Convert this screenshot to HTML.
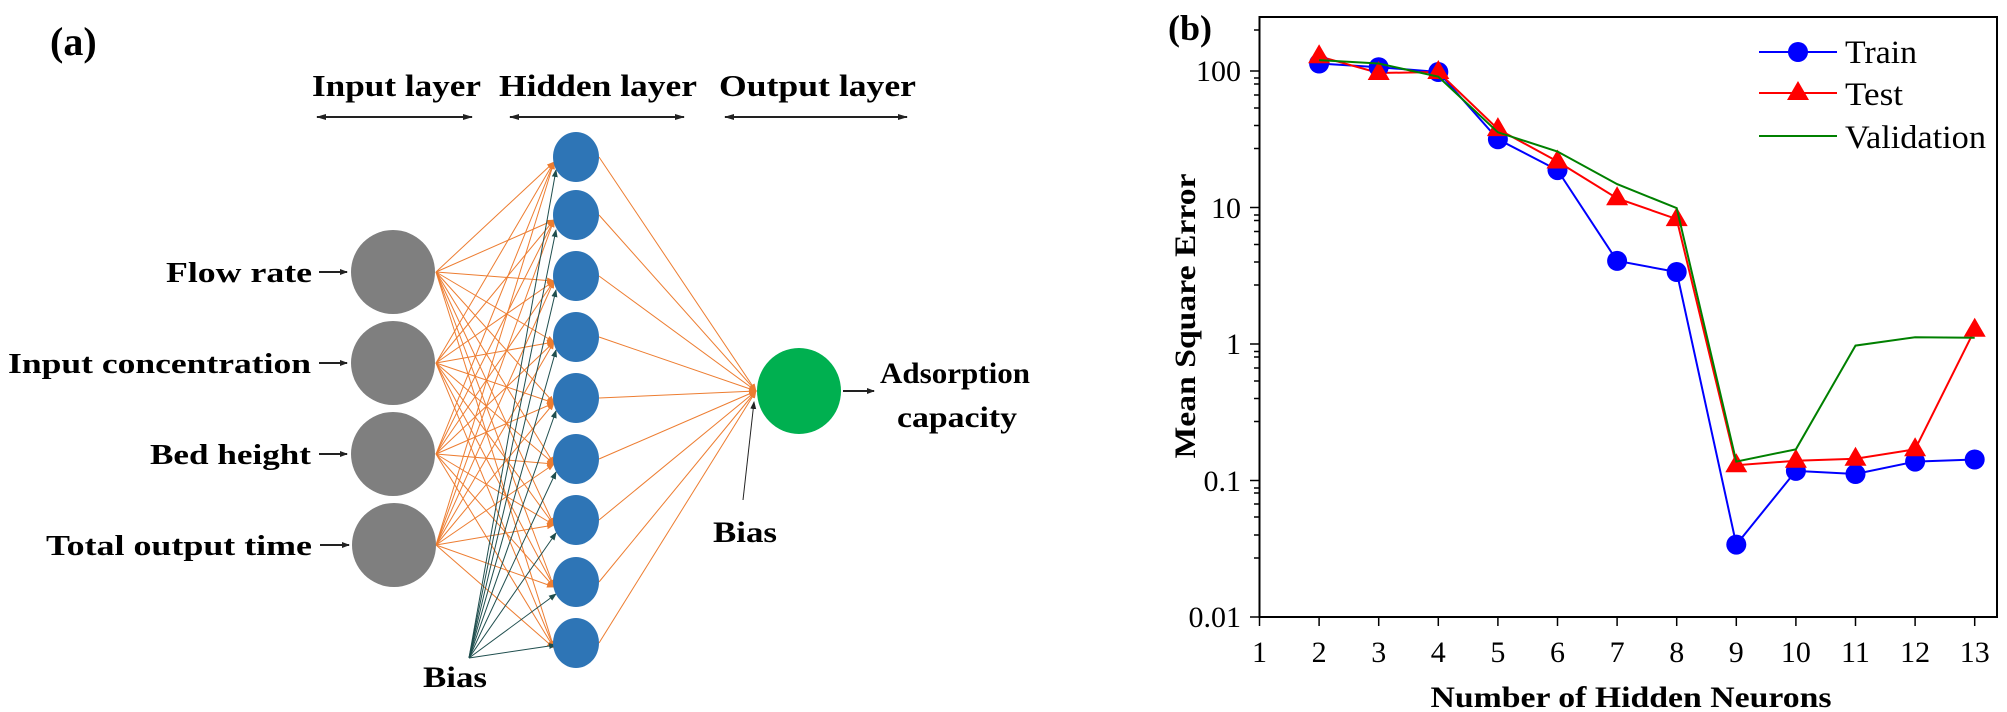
<!DOCTYPE html>
<html><head><meta charset="utf-8"><style>
html,body{margin:0;padding:0;background:#fff;}
svg{display:block;}
svg text{font-family:"Liberation Serif","Times New Roman",Times,serif !important;}
</style></head><body>
<svg width="2007" height="712" viewBox="0 0 2007 712" xmlns="http://www.w3.org/2000/svg" font-family="Liberation Serif, Times New Roman, Times, serif" style="font-family:'Liberation Serif','Times New Roman',Times,serif">
<defs>
<marker id="ah" markerWidth="8" markerHeight="8" refX="7" refY="4" orient="auto" markerUnits="userSpaceOnUse"><path d="M0,1 L8,4 L0,7 z" fill="#222"/></marker>
<marker id="ahs" markerWidth="10" markerHeight="10" refX="9" refY="5" orient="auto-start-reverse" markerUnits="userSpaceOnUse"><path d="M0,2 L10,5 L0,8 z" fill="#222"/></marker>
<marker id="ao" markerWidth="8" markerHeight="8" refX="7" refY="4" orient="auto" markerUnits="userSpaceOnUse"><path d="M0,1 L8,4 L0,7 z" fill="#ed7d31"/></marker>
<marker id="at" markerWidth="8" markerHeight="8" refX="7" refY="4" orient="auto" markerUnits="userSpaceOnUse"><path d="M0,1 L8,4 L0,7 z" fill="#1f4e4e"/></marker>
</defs>

<!-- ===== Panel (a) ===== -->
<text x="50" y="55" font-size="40" font-weight="bold">(a)</text>
<text x="312" y="96" font-size="31" font-weight="bold" textLength="169" lengthAdjust="spacingAndGlyphs">Input layer</text>
<text x="499" y="96" font-size="31" font-weight="bold" textLength="198" lengthAdjust="spacingAndGlyphs">Hidden layer</text>
<text x="719" y="96" font-size="31" font-weight="bold" textLength="197" lengthAdjust="spacingAndGlyphs">Output layer</text>
<g stroke="#222" stroke-width="2">
<line x1="317" y1="117" x2="472" y2="117" marker-start="url(#ahs)" marker-end="url(#ahs)"/>
<line x1="510" y1="117" x2="684" y2="117" marker-start="url(#ahs)" marker-end="url(#ahs)"/>
<line x1="725" y1="117" x2="907" y2="117" marker-start="url(#ahs)" marker-end="url(#ahs)"/>
</g>

<g stroke="#ed7d31" stroke-width="1" marker-end="url(#ao)">
<line x1="436" y1="272" x2="554" y2="162"/><line x1="436" y1="272" x2="554" y2="220"/><line x1="436" y1="272" x2="554" y2="281"/><line x1="436" y1="272" x2="554" y2="342"/><line x1="436" y1="272" x2="554" y2="403"/><line x1="436" y1="272" x2="554" y2="464"/><line x1="436" y1="272" x2="554" y2="525"/><line x1="436" y1="272" x2="554" y2="587"/><line x1="436" y1="272" x2="554" y2="648"/>
<line x1="436" y1="363" x2="554" y2="162"/><line x1="436" y1="363" x2="554" y2="220"/><line x1="436" y1="363" x2="554" y2="281"/><line x1="436" y1="363" x2="554" y2="342"/><line x1="436" y1="363" x2="554" y2="403"/><line x1="436" y1="363" x2="554" y2="464"/><line x1="436" y1="363" x2="554" y2="525"/><line x1="436" y1="363" x2="554" y2="587"/><line x1="436" y1="363" x2="554" y2="648"/>
<line x1="436" y1="454" x2="554" y2="162"/><line x1="436" y1="454" x2="554" y2="220"/><line x1="436" y1="454" x2="554" y2="281"/><line x1="436" y1="454" x2="554" y2="342"/><line x1="436" y1="454" x2="554" y2="403"/><line x1="436" y1="454" x2="554" y2="464"/><line x1="436" y1="454" x2="554" y2="525"/><line x1="436" y1="454" x2="554" y2="587"/><line x1="436" y1="454" x2="554" y2="648"/>
<line x1="436" y1="545" x2="554" y2="162"/><line x1="436" y1="545" x2="554" y2="220"/><line x1="436" y1="545" x2="554" y2="281"/><line x1="436" y1="545" x2="554" y2="342"/><line x1="436" y1="545" x2="554" y2="403"/><line x1="436" y1="545" x2="554" y2="464"/><line x1="436" y1="545" x2="554" y2="525"/><line x1="436" y1="545" x2="554" y2="587"/><line x1="436" y1="545" x2="554" y2="648"/>
</g>
<g stroke="#1f4e4e" stroke-width="1" marker-end="url(#at)">
<line x1="469" y1="658" x2="556" y2="170"/><line x1="469" y1="658" x2="556" y2="230"/><line x1="469" y1="658" x2="556" y2="290"/><line x1="469" y1="658" x2="556" y2="350"/><line x1="469" y1="658" x2="556" y2="411"/><line x1="469" y1="658" x2="556" y2="472"/><line x1="469" y1="658" x2="556" y2="533"/><line x1="469" y1="658" x2="556" y2="594"/><line x1="469" y1="658" x2="556" y2="645"/>
</g>
<g stroke="#ed7d31" stroke-width="1" marker-end="url(#ao)">
<line x1="599" y1="157" x2="756" y2="391"/><line x1="599" y1="215" x2="756" y2="391"/><line x1="599" y1="276" x2="756" y2="391"/><line x1="599" y1="337" x2="756" y2="391"/><line x1="599" y1="398" x2="756" y2="391"/><line x1="599" y1="459" x2="756" y2="391"/><line x1="599" y1="520" x2="756" y2="391"/><line x1="599" y1="582" x2="756" y2="391"/><line x1="599" y1="643" x2="756" y2="391"/>
</g>

<g fill="#7f7f7f">
<circle cx="393" cy="272" r="42"/><circle cx="393" cy="363" r="42"/><circle cx="393" cy="454" r="42"/><circle cx="394" cy="545" r="42"/>
</g>
<g fill="#2e75b6">
<ellipse cx="576" cy="157" rx="23" ry="25"/><ellipse cx="576" cy="215" rx="23" ry="25"/><ellipse cx="576" cy="276" rx="23" ry="25"/><ellipse cx="576" cy="337" rx="23" ry="25"/><ellipse cx="576" cy="398" rx="23" ry="25"/><ellipse cx="576" cy="459" rx="23" ry="25"/><ellipse cx="576" cy="520" rx="23" ry="25"/><ellipse cx="576" cy="582" rx="23" ry="25"/><ellipse cx="576" cy="643" rx="23" ry="25"/>
</g>
<ellipse cx="799" cy="391" rx="42" ry="43" fill="#00b050"/>

<g font-size="29" font-weight="bold" text-anchor="end">
<text x="312" y="282" textLength="146" lengthAdjust="spacingAndGlyphs">Flow rate</text>
<text x="311" y="373" textLength="303" lengthAdjust="spacingAndGlyphs">Input concentration</text>
<text x="311" y="464" textLength="161" lengthAdjust="spacingAndGlyphs">Bed height</text>
<text x="312" y="555" textLength="266" lengthAdjust="spacingAndGlyphs">Total output time</text>
</g>
<g stroke="#222" stroke-width="2" marker-end="url(#ah)">
<line x1="319" y1="272" x2="347" y2="272"/><line x1="319" y1="363" x2="347" y2="363"/><line x1="319" y1="454" x2="347" y2="454"/><line x1="320" y1="545" x2="349" y2="545"/>
<line x1="843" y1="391" x2="874" y2="391"/>
</g>
<line x1="743" y1="500" x2="754" y2="402" stroke="#222" stroke-width="1" marker-end="url(#ah)"/>
<g font-size="30" font-weight="bold" text-anchor="middle">
<text x="955" y="383" textLength="150" lengthAdjust="spacingAndGlyphs">Adsorption</text>
<text x="957" y="427" textLength="120" lengthAdjust="spacingAndGlyphs">capacity</text>
<text x="745" y="542" textLength="64" lengthAdjust="spacingAndGlyphs">Bias</text>
<text x="455" y="687" textLength="64" lengthAdjust="spacingAndGlyphs">Bias</text>
</g>

<!-- ===== Panel (b) ===== -->
<text x="1168" y="40" font-size="36" font-weight="bold">(b)</text>
<rect x="1259.5" y="17" width="737.5" height="600" fill="none" stroke="#000" stroke-width="2"/>
<g stroke="#000" stroke-width="1.5">
<line x1="1250" y1="71" x2="1259" y2="71"/><line x1="1250" y1="207.5" x2="1259" y2="207.5"/><line x1="1250" y1="344" x2="1259" y2="344"/><line x1="1250" y1="480.5" x2="1259" y2="480.5"/><line x1="1250" y1="617" x2="1259" y2="617"/>
<line x1="1254" y1="30" x2="1259" y2="30"/>
<path d="M1254,558 h5 M1254,535 h5 M1254,517 h5 M1254,504 h5 M1254,493 h5 M1254,488 h5
M1254,421.5 h5 M1254,398.5 h5 M1254,381 h5 M1254,368 h5 M1254,357 h5 M1254,351.5 h5
M1254,285 h5 M1254,262 h5 M1254,244.5 h5 M1254,231.5 h5 M1254,220.5 h5 M1254,215 h5
M1254,148.5 h5 M1254,125.5 h5 M1254,108 h5 M1254,95 h5 M1254,84 h5 M1254,78 h5"/>
</g>
<g font-size="30" text-anchor="end">
<text x="1241" y="81">100</text><text x="1241" y="218">10</text><text x="1241" y="354">1</text><text x="1241" y="491">0.1</text><text x="1241" y="627">0.01</text>
</g>
<g stroke="#000" stroke-width="1.5">
<path d="M1259.5,617 v9 M1319.1,617 v9 M1378.7,617 v9 M1438.3,617 v9 M1497.9,617 v9 M1557.5,617 v9 M1617.1,617 v9 M1676.7,617 v9 M1736.3,617 v9 M1795.9,617 v9 M1855.5,617 v9 M1915.1,617 v9 M1974.7,617 v9"/>
</g>
<g font-size="30" text-anchor="middle">
<text x="1259.5" y="662">1</text><text x="1319.1" y="662">2</text><text x="1378.7" y="662">3</text><text x="1438.3" y="662">4</text><text x="1497.9" y="662">5</text><text x="1557.5" y="662">6</text><text x="1617.1" y="662">7</text><text x="1676.7" y="662">8</text><text x="1736.3" y="662">9</text><text x="1795.9" y="662">10</text><text x="1855.5" y="662">11</text><text x="1915.1" y="662">12</text><text x="1974.7" y="662">13</text>
</g>
<text x="1631" y="707" font-size="30" font-weight="bold" text-anchor="middle" textLength="401" lengthAdjust="spacingAndGlyphs">Number of Hidden Neurons</text>
<text transform="translate(1195,316) rotate(-90)" font-size="30" font-weight="bold" text-anchor="middle" textLength="285" lengthAdjust="spacingAndGlyphs">Mean Square Error</text>

<polyline fill="none" stroke="#0000ff" stroke-width="2" points="1319.1,63.5 1378.7,67.2 1438.3,72 1497.9,139.3 1557.5,170.1 1617.1,260.9 1676.7,272 1736.3,544.6 1795.9,470.9 1855.5,474 1915.1,461.6 1974.7,459.5"/>
<polyline fill="none" stroke="#ff0000" stroke-width="2" points="1319.1,56.3 1378.7,73 1438.3,72 1497.9,129.1 1557.5,161.5 1617.1,198.3 1676.7,219.1 1736.3,465.2 1795.9,460.8 1855.5,458.7 1915.1,449.3 1974.7,329.8"/>
<g fill="#0000ff">
<circle cx="1319.1" cy="63.5" r="10"/><circle cx="1378.7" cy="67.2" r="10"/><circle cx="1438.3" cy="72" r="10"/><circle cx="1497.9" cy="139.3" r="10"/><circle cx="1557.5" cy="170.1" r="10"/><circle cx="1617.1" cy="260.9" r="10"/><circle cx="1676.7" cy="272" r="10"/><circle cx="1736.3" cy="544.6" r="10"/><circle cx="1795.9" cy="470.9" r="10"/><circle cx="1855.5" cy="474" r="10"/><circle cx="1915.1" cy="461.6" r="10"/><circle cx="1974.7" cy="459.5" r="10"/>
</g>
<g fill="#ff0000">
<path d="M1319.1,44.3 l11,19 h-22 z M1378.7,61 l11,19 h-22 z M1438.3,60 l11,19 h-22 z M1497.9,117.1 l11,19 h-22 z M1557.5,149.5 l11,19 h-22 z M1617.1,186.3 l11,19 h-22 z M1676.7,207.1 l11,19 h-22 z M1736.3,453.2 l11,19 h-22 z M1795.9,448.8 l11,19 h-22 z M1855.5,446.7 l11,19 h-22 z M1915.1,437.3 l11,19 h-22 z M1974.7,317.8 l11,19 h-22 z"/>
</g>
<polyline fill="none" stroke="#008000" stroke-width="2" points="1319.1,60.1 1378.7,63.5 1438.3,76.7 1497.9,132.3 1557.5,151.5 1617.1,184.1 1676.7,208.1 1736.3,461.6 1795.9,449.3 1855.5,345.6 1915.1,337.2 1974.7,337.8"/>

<line x1="1759" y1="52" x2="1837" y2="52" stroke="#0000ff" stroke-width="2"/>
<circle cx="1798" cy="52" r="10" fill="#0000ff"/>
<line x1="1759" y1="93" x2="1837" y2="93" stroke="#ff0000" stroke-width="2"/>
<path d="M1798,81 l11,19 h-22 z" fill="#ff0000"/>
<line x1="1759" y1="136" x2="1837" y2="136" stroke="#008000" stroke-width="2"/>
<g font-size="33">
<text x="1845" y="63" textLength="72" lengthAdjust="spacingAndGlyphs">Train</text>
<text x="1845" y="105" textLength="58" lengthAdjust="spacingAndGlyphs">Test</text>
<text x="1845" y="148" textLength="141" lengthAdjust="spacingAndGlyphs">Validation</text>
</g>
</svg>
</body></html>
